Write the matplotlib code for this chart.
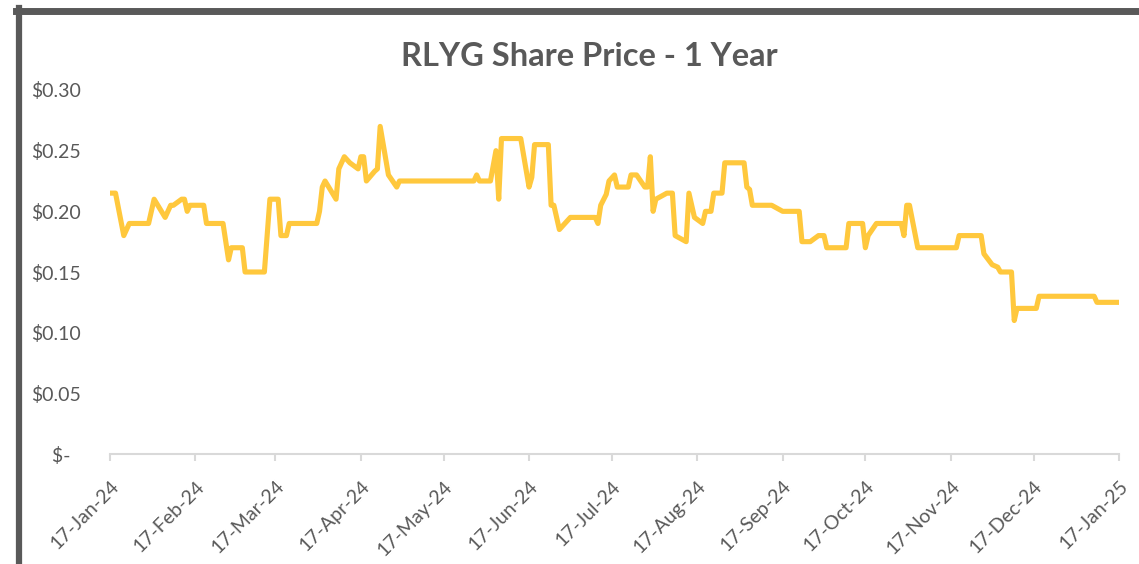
import pandas as pd
import matplotlib
matplotlib.use("Agg")
import matplotlib.pyplot as plt
from matplotlib.lines import Line2D
from matplotlib.ticker import FuncFormatter
import matplotlib.dates as mdates

# price points (date of each change, close price)
dates = [
    "2024-01-17", "2024-01-19", "2024-01-22", "2024-01-24", "2024-01-31",
    "2024-02-02", "2024-02-06", "2024-02-08", "2024-02-09", "2024-02-12",
    "2024-02-13", "2024-02-14", "2024-02-15", "2024-02-20", "2024-02-21",
    "2024-02-27", "2024-02-29", "2024-03-01", "2024-03-05", "2024-03-06",
    "2024-03-13", "2024-03-15", "2024-03-18", "2024-03-19", "2024-03-21",
    "2024-03-22", "2024-04-01", "2024-04-02", "2024-04-03", "2024-04-04",
    "2024-04-08", "2024-04-09", "2024-04-11", "2024-04-13", "2024-04-16",
    "2024-04-17", "2024-04-18", "2024-04-19", "2024-04-22", "2024-04-23",
    "2024-04-24", "2024-04-27", "2024-04-30", "2024-05-01", "2024-05-28",
    "2024-05-29", "2024-05-30", "2024-06-03", "2024-06-05", "2024-06-06",
    "2024-06-07", "2024-06-14", "2024-06-17", "2024-06-18", "2024-06-19",
    "2024-06-24", "2024-06-25", "2024-06-26", "2024-06-28", "2024-07-02",
    "2024-07-11", "2024-07-12", "2024-07-13", "2024-07-15", "2024-07-16",
    "2024-07-18", "2024-07-19", "2024-07-23", "2024-07-24", "2024-07-26",
    "2024-07-29", "2024-07-30", "2024-07-31", "2024-08-01", "2024-08-02",
    "2024-08-06", "2024-08-08", "2024-08-09", "2024-08-13", "2024-08-14",
    "2024-08-16", "2024-08-19", "2024-08-20", "2024-08-22", "2024-08-23",
    "2024-08-26", "2024-08-27", "2024-09-03", "2024-09-04", "2024-09-05",
    "2024-09-06", "2024-09-13", "2024-09-17", "2024-09-23", "2024-09-24",
    "2024-09-27", "2024-09-30", "2024-10-02", "2024-10-03", "2024-10-10",
    "2024-10-11", "2024-10-16", "2024-10-17", "2024-10-18", "2024-10-21",
    "2024-10-30", "2024-10-31", "2024-11-01", "2024-11-02", "2024-11-05",
    "2024-11-19", "2024-11-20", "2024-11-28", "2024-11-29", "2024-12-02",
    "2024-12-04", "2024-12-05", "2024-12-09", "2024-12-10", "2024-12-11",
    "2024-12-18", "2024-12-19", "2025-01-08", "2025-01-09", "2025-01-17",
]
prices = [
    0.215, 0.215, 0.180, 0.190, 0.190,
    0.210, 0.195, 0.205, 0.205, 0.210,
    0.210, 0.200, 0.205, 0.205, 0.190,
    0.190, 0.160, 0.170, 0.170, 0.150,
    0.150, 0.210, 0.210, 0.180, 0.180,
    0.190, 0.190, 0.200, 0.220, 0.225,
    0.210, 0.235, 0.245, 0.240, 0.235,
    0.245, 0.245, 0.225, 0.233, 0.235,
    0.270, 0.230, 0.220, 0.225, 0.225,
    0.230, 0.225, 0.225, 0.250, 0.210,
    0.260, 0.260, 0.220, 0.228, 0.255,
    0.255, 0.205, 0.205, 0.185, 0.195,
    0.195, 0.190, 0.205, 0.214, 0.225,
    0.230, 0.220, 0.220, 0.230, 0.230,
    0.220, 0.220, 0.245, 0.200, 0.210,
    0.215, 0.215, 0.180, 0.175, 0.215,
    0.195, 0.190, 0.200, 0.200, 0.215,
    0.215, 0.240, 0.240, 0.220, 0.218,
    0.205, 0.205, 0.200, 0.200, 0.175,
    0.175, 0.180, 0.180, 0.170, 0.170,
    0.190, 0.190, 0.170, 0.180, 0.190,
    0.190, 0.180, 0.205, 0.205, 0.170,
    0.170, 0.180, 0.180, 0.165, 0.156,
    0.154, 0.150, 0.150, 0.110, 0.120,
    0.120, 0.130, 0.130, 0.125, 0.125,
]
yticks = [0.0, 0.05, 0.10, 0.15, 0.20, 0.25, 0.30]
title = "RLYG Share Price - 1 Year"

grey = "#595959"
axis_grey = "#d9d9d9"
gold = "#FFC83D"

plt.rcParams["font.family"] = ["Lato", "DejaVu Sans"]

x = pd.to_datetime(dates)
xticks = pd.date_range("2024-01-17", periods=13, freq=pd.DateOffset(months=1))

fig = plt.figure(figsize=(11.39, 5.64), dpi=100)
ax = fig.add_axes([110 / 1139, 110 / 564, 1009 / 1139, 364 / 564])

ax.plot(x, prices, color=gold, linewidth=3.7,
        solid_joinstyle="round", solid_capstyle="round")

ax.set_xlim(xticks[0], xticks[-1])
ax.set_ylim(0, 0.30)

ax.set_xticks(xticks)
ax.xaxis.set_major_formatter(mdates.DateFormatter("%d-%b-%y"))
ax.set_yticks(yticks)
ax.yaxis.set_major_formatter(FuncFormatter(
    lambda v, p: "$-  " if abs(v) < 1e-9 else f"${v:.2f}"))

for s in ["top", "right", "left"]:
    ax.spines[s].set_visible(False)
ax.spines["bottom"].set_color(axis_grey)
ax.spines["bottom"].set_linewidth(1.5)

ax.tick_params(axis="x", colors=axis_grey, length=5, width=1.5,
               labelcolor=grey, labelsize=14, pad=12)
ax.tick_params(axis="y", length=0, labelcolor=grey, labelsize=14, pad=21)
for lab in ax.get_xticklabels():
    lab.set_rotation(45)
    lab.set_ha("right")
    lab.set_rotation_mode("anchor")

fig.text(589 / 1139, 1 - 56 / 564, title, ha="center", va="center",
         fontsize=23.5, fontweight="bold", color=grey)

# chart frame (top and left edges visible in the crop)
fig.add_artist(Line2D([18.5 / 1139, 18.5 / 1139], [0, 1 - 8 / 564],
                      transform=fig.transFigure, color=grey, linewidth=4.5))
fig.add_artist(Line2D([16 / 1139, 1], [1 - 10.5 / 564, 1 - 10.5 / 564],
                      transform=fig.transFigure, color=grey, linewidth=5))

fig.savefig("out.png", dpi=100)
